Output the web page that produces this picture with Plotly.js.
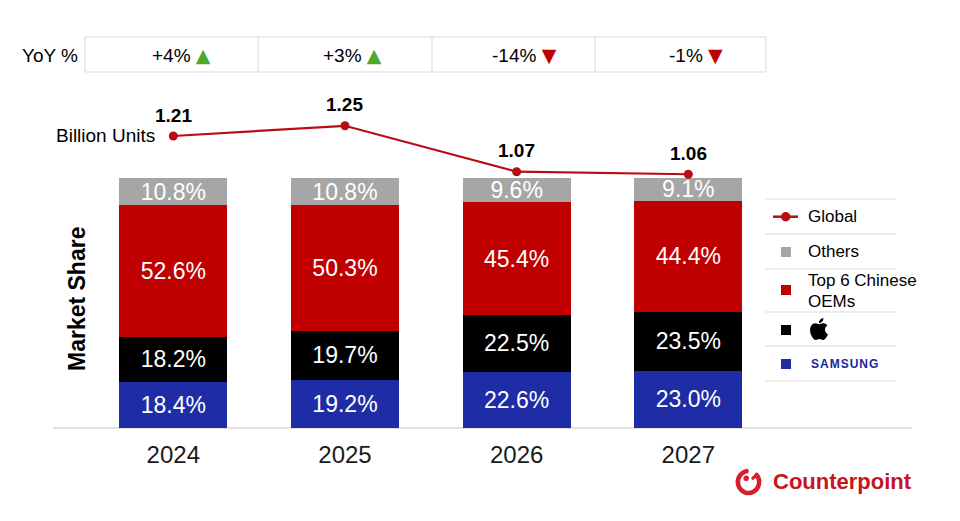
<!DOCTYPE html>
<html>
<head>
<meta charset="utf-8">
<script src="https://cdn.plot.ly/plotly-3.0.1.min.js"></script>
<style>html,body{margin:0;padding:0;background:#fff;}#chart{width:960px;height:521px;}</style>
</head>
<body>
<div id="chart"></div>
<script>
// ---- data ----
const years = ['2024', '2025', '2026', '2027'];
const samsungShare = [18.4, 19.2, 22.6, 23.0];
const appleShare = [18.2, 19.7, 22.5, 23.5];
const chineseShare = [52.6, 50.3, 45.4, 44.4];
const othersShare = [10.8, 10.8, 9.6, 9.1];
const globalUnits = [1.21, 1.25, 1.07, 1.06];
const yoyPct = [4, 3, -14, -1];

// ---- styling ----
const FONT = 'Liberation Sans, Arial, Helvetica, sans-serif';
const C_GRAY = '#a6a6a6', C_RED = '#c00000', C_BLACK = '#000000', C_BLUE = '#1e2da6';
const C_LINE = '#b80d14', C_SEP = '#d9d9d9';
const W = 960, H = 521, ML = 100, MR = 48, MT = 90, MB = 93;
const PW = W - ML - MR, PH = H - MT - MB;
const px = v => (v - ML) / PW;           // pixel x -> paper x
const py = v => (H - MB - v) / PH;       // pixel y -> paper y

const barCommon = {
  type: 'bar', x: years, width: 0.629,
  texttemplate: '%{y:.1f}%', textposition: 'inside', insidetextanchor: 'middle',
  textangle: 0, constraintext: 'none',
  textfont: {family: FONT, size: 23, color: '#ffffff'},
  hoverinfo: 'skip', showlegend: false
};

const traces = [
  Object.assign({}, barCommon, {name: 'Samsung', y: samsungShare, marker: {color: C_BLUE, line: {width: 0}}}),
  Object.assign({}, barCommon, {name: 'Apple', y: appleShare, marker: {color: C_BLACK, line: {width: 0}}}),
  Object.assign({}, barCommon, {name: 'Top 6 Chinese OEMs', y: chineseShare, marker: {color: C_RED, line: {width: 0}}}),
  Object.assign({}, barCommon, {name: 'Others', y: othersShare, marker: {color: C_GRAY, line: {width: 0}}}),
  {
    type: 'scatter', mode: 'lines+markers', name: 'Global', x: years, y: globalUnits, yaxis: 'y2',
    line: {color: C_LINE, width: 2.2}, marker: {color: C_LINE, size: 9},
    hoverinfo: 'skip', showlegend: false, cliponaxis: false
  }
];

const annotations = [];
const shapes = [];

// line value labels (category index used for x)
globalUnits.forEach((v, i) => {
  annotations.push({xref: 'x', yref: 'y2', x: i, y: v, yshift: 21, yanchor: 'middle', showarrow: false,
    text: '<b>' + v.toFixed(2) + '</b>', font: {family: FONT, size: 19, color: '#000'}});
});
annotations.push({xref: 'paper', yref: 'paper', x: px(54), y: py(135), xanchor: 'left', yanchor: 'middle',
  showarrow: false, text: 'Billion Units', font: {family: FONT, size: 19, color: '#000'}});

// y title
annotations.push({xref: 'paper', yref: 'paper', x: px(77), y: py(299), textangle: -90, showarrow: false,
  xanchor: 'center', yanchor: 'middle', text: '<b>Market Share</b>', font: {family: FONT, size: 23, color: '#000'}});

// YoY table
shapes.push({type: 'rect', xref: 'paper', yref: 'paper', x0: px(85), x1: px(766), y0: py(37), y1: py(72),
  line: {color: C_SEP, width: 1}, fillcolor: 'rgba(0,0,0,0)'});
[258, 432, 595].forEach(d => shapes.push({type: 'line', xref: 'paper', yref: 'paper', x0: px(d), x1: px(d),
  y0: py(37), y1: py(72), line: {color: C_SEP, width: 1}}));
annotations.push({xref: 'paper', yref: 'paper', x: px(20), y: py(55), xanchor: 'left', yanchor: 'middle',
  showarrow: false, text: 'YoY %', font: {family: FONT, size: 19, color: '#000'}});
yoyPct.forEach((v, i) => {
  const up = v >= 0;
  const tri = up ? '<span style="color:#4ea72e;font-family:DejaVu Sans;font-size:19px">▲</span>'
                 : '<span style="color:#c00000;font-family:DejaVu Sans;font-size:19px">▼</span>';
  annotations.push({xref: 'x', yref: 'paper', x: i, xshift: 8, y: py(55), yanchor: 'middle', showarrow: false,
    text: (up ? '+' : '') + v + '% ' + tri, font: {family: FONT, size: 19, color: '#000'}});
});

// baseline
shapes.push({type: 'line', xref: 'paper', yref: 'paper', x0: px(53), x1: px(912), y0: 0, y1: 0,
  line: {color: C_SEP, width: 1.5}, layer: 'below'});

// custom legend
[199, 234, 269, 312, 346, 381].forEach(y => shapes.push({type: 'line', xref: 'paper', yref: 'paper',
  x0: px(765), x1: px(896), y0: py(y), y1: py(y), line: {color: C_SEP, width: 1}}));
shapes.push({type: 'line', xref: 'paper', yref: 'paper', x0: px(773), x1: px(798), y0: py(216.7), y1: py(216.7),
  line: {color: C_LINE, width: 2.5}});
shapes.push({type: 'circle', xref: 'paper', yref: 'paper', x0: px(781), x1: px(790.5), y0: py(212), y1: py(221.5),
  fillcolor: C_LINE, line: {width: 0}});
const legendSq = [[252, C_GRAY], [290, C_RED], [330, C_BLACK], [364, C_BLUE]];
legendSq.forEach(([y, c]) => shapes.push({type: 'rect', xref: 'paper', yref: 'paper',
  x0: px(781), x1: px(791), y0: py(y - 5), y1: py(y + 5), fillcolor: c, line: {width: 0}}));
const legendText = [['Global', 216.7], ['Others', 251.7], ['Top 6 Chinese', 280.7], ['OEMs', 301.7]];
legendText.forEach(([t, y]) => annotations.push({xref: 'paper', yref: 'paper', x: px(806), y: py(y),
  xanchor: 'left', yanchor: 'middle', showarrow: false, text: t, font: {family: FONT, size: 17, color: '#000'}}));
annotations.push({xref: 'paper', yref: 'paper', x: px(809), y: py(364), xanchor: 'left', yanchor: 'middle',
  showarrow: false, text: '<b>S\u200AA\u200AM\u200AS\u200AU\u200AN\u200AG</b>', font: {family: FONT, size: 12, color: '#1428a0'}});

// Counterpoint brand
annotations.push({xref: 'paper', yref: 'paper', x: px(771), y: py(481), xanchor: 'left', yanchor: 'middle',
  showarrow: false, text: '<b>Counterpoint</b>', font: {family: FONT, size: 22, color: '#c4161c'}});

const appleSvg = '<svg xmlns="http://www.w3.org/2000/svg" viewBox="0 0 24 24"><path fill="#000" d="M12.152 6.896c-.948 0-2.415-1.078-3.96-1.04-2.04.027-3.91 1.183-4.961 3.014-2.117 3.675-.546 9.103 1.519 12.09 1.013 1.454 2.208 3.09 3.792 3.039 1.52-.065 2.09-.987 3.935-.987 1.831 0 2.35.987 3.96.948 1.637-.026 2.676-1.48 3.676-2.948 1.156-1.688 1.636-3.325 1.662-3.415-.039-.013-3.182-1.221-3.220-4.857-.026-3.040 2.480-4.494 2.597-4.559-1.429-2.090-3.623-2.324-4.390-2.376-2-.156-3.675 1.090-4.610 1.090zM15.530 3.830c.843-1.012 1.400-2.427 1.245-3.830-1.207.052-2.662.805-3.532 1.818-.780.896-1.454 2.338-1.273 3.714 1.338.104 2.715-.688 3.559-1.701"/></svg>';
const logoSvg = '<svg xmlns="http://www.w3.org/2000/svg" viewBox="0 0 32 32"><path d="M14.09 6.17 A11 11 0 1 0 24.43 9.93" fill="none" stroke="#d4202a" stroke-width="4.6" stroke-linecap="round"/><path d="M24.43 9.93 L20.5 13.2" fill="none" stroke="#d4202a" stroke-width="3.2" stroke-linecap="round"/><circle cx="13.6" cy="13.2" r="2.8" fill="#d4202a"/></svg>';
const uri = s => 'data:image/svg+xml;charset=utf-8,' + encodeURIComponent(s);

const images = [
  {source: uri(appleSvg), xref: 'paper', yref: 'paper', x: px(808), y: py(318), sizex: 22 / PW, sizey: 22 / PH,
    xanchor: 'left', yanchor: 'top', sizing: 'stretch', layer: 'above'},
  {source: uri(logoSvg), xref: 'paper', yref: 'paper', x: px(733), y: py(465), sizex: 31 / PW, sizey: 32 / PH,
    xanchor: 'left', yanchor: 'top', sizing: 'stretch', layer: 'above'}
];

const layout = {
  width: W, height: H, margin: {l: ML, r: MR, t: MT, b: MB, pad: 0},
  paper_bgcolor: '#ffffff', plot_bgcolor: '#ffffff',
  barmode: 'stack', showlegend: false,
  font: {family: FONT, color: '#000'},
  xaxis: {type: 'category', range: [(ML - 173.3) / 171.67, (W - MR - 173.3) / 171.67],
    showgrid: false, zeroline: false, showline: false, ticks: '', ticklabelstandoff: 10,
    tickfont: {family: FONT, size: 24, color: '#1a1a1a'}, fixedrange: true},
  yaxis: {range: [0, (H - MB - MT) / 2.5], visible: false, showgrid: false, zeroline: false, fixedrange: true},
  yaxis2: {overlaying: 'y', side: 'right', range: [0.0649, 1.3904], visible: false, showgrid: false,
    zeroline: false, fixedrange: true},
  annotations: annotations, shapes: shapes, images: images
};

Plotly.newPlot('chart', traces, layout, {staticPlot: true, displayModeBar: false});
</script>
</body>
</html>
